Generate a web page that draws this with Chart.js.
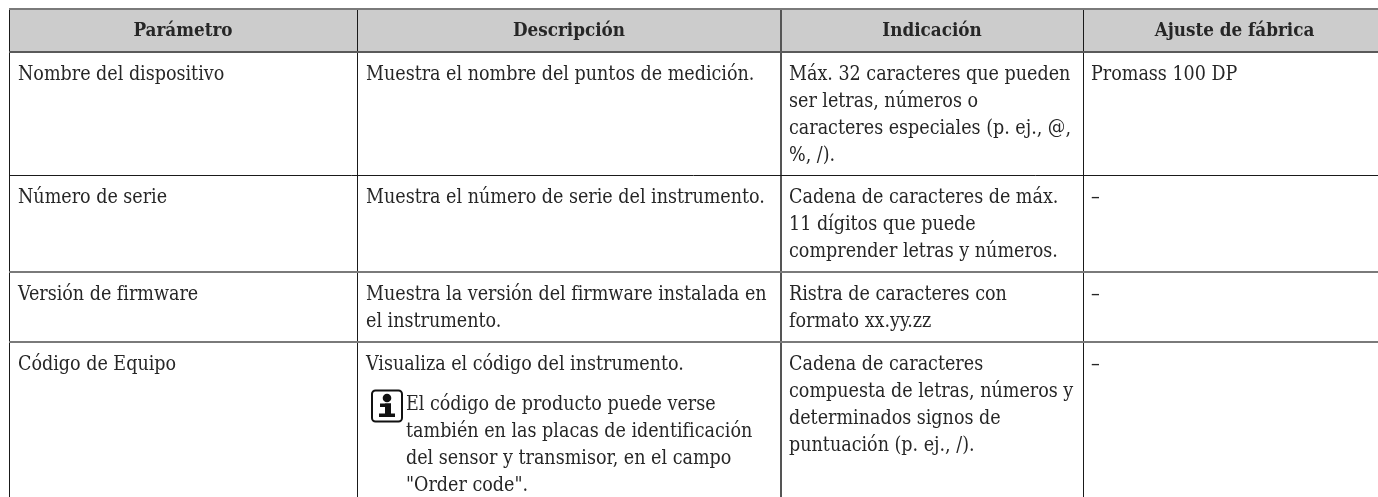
<!DOCTYPE html>
<html lang="es"><head><meta charset="utf-8"><title>Parámetros</title>
<style>html,body{margin:0;padding:0;background:#fff;overflow:hidden}#w{width:1378px;height:497px;position:relative}</style>
<script src="https://cdn.jsdelivr.net/npm/chart.js@4"></script></head>
<body><div id="w"><canvas id="c" width="1378" height="497"></canvas></div>
<script>
const headers = ["Parámetro","Descripción","Indicación","Ajuste de fábrica"];
const parametro = ["Nombre del dispositivo","Número de serie","Versión de firmware","Código de Equipo"];
const descripcion = [
  ["Muestra el nombre del puntos de medición."],
  ["Muestra el número de serie del instrumento."],
  ["Muestra la versión del firmware instalada en","el instrumento."],
  ["Visualiza el código del instrumento."]
];
const nota = ["El código de producto puede verse","también en las placas de identificación","del sensor y transmisor, en el campo","\"Order code\"."];
const indicacion = [
  ["Máx. 32 caracteres que pueden","ser letras, números o","caracteres especiales (p. ej., @,","%, /)."],
  ["Cadena de caracteres de máx.","11 dígitos que puede","comprender letras y números."],
  ["Ristra de caracteres con","formato xx.yy.zz"],
  ["Cadena de caracteres","compuesta de letras, números y","determinados signos de","puntuación (p. ej., /)."]
];
const ajuste = [["Promass 100 DP"],["–"],["–"],["–"]];

// layout (in scale units = page pixels)
const colEdges = [9,357,781,1083];
const rowEdges = [9,52,175,272,342];
const gridRight = 1378, gridBottom = 497, tableRight = 1386;
const cellTextX = [18,366,789,1091];
const firstBaseline = [80,203,300,370];
const headerBaseline = 36;
const lineStep = 27;
const noteX = 406, noteBaseline = 410;
const FONT = '"DejaVu Serif Condensed","DejaVu Serif"';
const SIZE = 19.5, HEAD = 18.7;
const TEXT = '#262626';

const tablePlugin = {
  id:'table',
  beforeDatasetsDraw(chart){
    const {ctx,scales:{x,y}}=chart;
    ctx.save();
    ctx.globalCompositeOperation='destination-over';
    ctx.fillStyle='#cccccc';
    ctx.fillRect(x.getPixelForValue(colEdges[0]),y.getPixelForValue(rowEdges[0]),x.getPixelForValue(gridRight)-x.getPixelForValue(colEdges[0]),y.getPixelForValue(rowEdges[1])-y.getPixelForValue(rowEdges[0]));
    ctx.restore();
  },
  afterDatasetsDraw(chart){
    const {ctx,scales:{x,y}}=chart;
    ctx.save();
    ctx.fillStyle=TEXT; ctx.textBaseline='alphabetic';
    const px=v=>x.getPixelForValue(v), py=v=>y.getPixelForValue(v);
    ctx.font='bold '+HEAD+'px '+FONT; ctx.textAlign='center';
    const ends=[...colEdges.slice(1),tableRight];
    headers.forEach((h,i)=>ctx.fillText(h,px((colEdges[i]+ends[i])/2),py(headerBaseline)));
    ctx.font=SIZE+'px '+FONT; ctx.textAlign='left';
    const lines=(arr,col,r)=>arr.forEach((t,k)=>ctx.fillText(t,px(cellTextX[col]),py(firstBaseline[r]+k*lineStep)));
    parametro.forEach((t,r)=>lines([t],0,r));
    descripcion.forEach((a,r)=>lines(a,1,r));
    indicacion.forEach((a,r)=>lines(a,2,r));
    ajuste.forEach((a,r)=>lines(a,3,r));
    nota.forEach((t,k)=>ctx.fillText(t,px(noteX),py(noteBaseline+k*lineStep)));
    // info icon
    const X=px(372),Y=py(390.5);
    ctx.strokeStyle='#111';ctx.lineWidth=2;
    ctx.beginPath();ctx.roundRect(X,Y,30,31,3.5);ctx.stroke();
    ctx.fillStyle='#111';
    ctx.beginPath();ctx.arc(X+15,Y+7.5,4.3,0,Math.PI*2);ctx.fill();
    ctx.fillRect(X+8,Y+13,11,3.5);
    ctx.fillRect(X+13,Y+13,6,11);
    ctx.fillRect(X+7,Y+23,16,3.5);
    ctx.restore();
  }
};

new Chart(document.getElementById('c'),{
  type:'scatter',
  data:{datasets:[{data:[],pointRadius:0}]},
  plugins:[tablePlugin],
  options:{
    responsive:false,animation:false,events:[],
    layout:{padding:{left:colEdges[0],top:rowEdges[0],right:0,bottom:0}},
    plugins:{legend:{display:false},title:{display:false},tooltip:{enabled:false}},
    scales:{
      x:{type:'linear',min:colEdges[0],max:gridRight,
        afterBuildTicks(a){a.ticks=colEdges.map(v=>({value:v}));},
        ticks:{display:false},border:{display:false},
        grid:{drawTicks:false,color:c=>c.index===2?'#555555':'#1a1a1a',lineWidth:c=>c.index===2?2:1}},
      y:{type:'linear',reverse:true,min:rowEdges[0],max:gridBottom,
        afterBuildTicks(a){a.ticks=rowEdges.map(v=>({value:v}));},
        ticks:{display:false},border:{display:false},
        grid:{drawTicks:false,
          color:c=>c.index===2?'#1a1a1a':(c.index===1?'#5a5a5a':'#7a7a7a'),
          lineWidth:c=>c.index===2?1:2}}
    }
  }
});
</script></body></html>
